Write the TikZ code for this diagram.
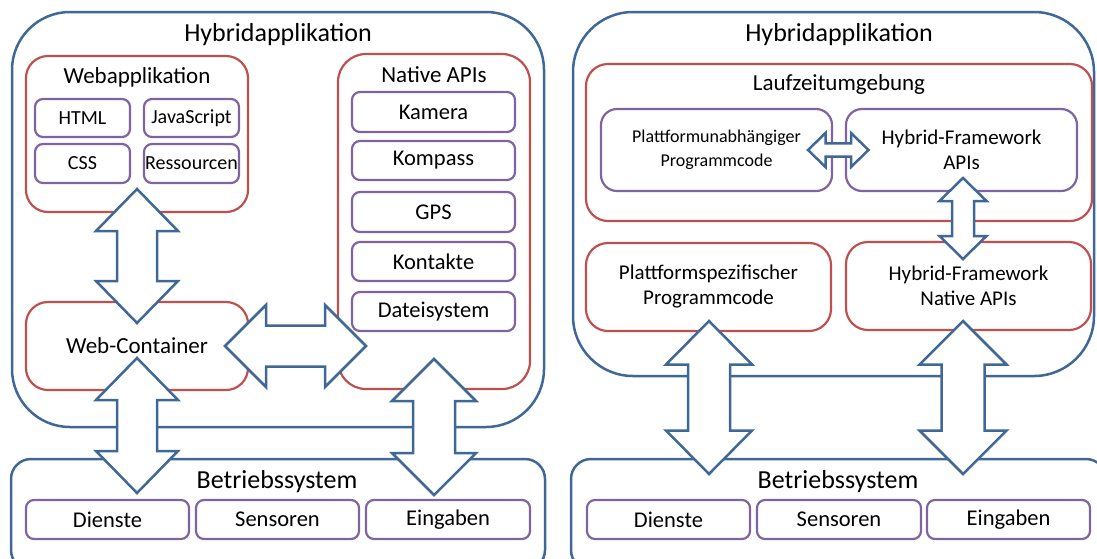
\documentclass[tikz,border=0pt]{standalone}
\usepackage{fontspec}
\setmainfont{Carlito}
\usetikzlibrary{calc}

\definecolor{dblue}{HTML}{3F6896}
\definecolor{dred}{HTML}{C0504D}
\definecolor{dpurple}{HTML}{8064A2}

\tikzset{
  base/.style={inner sep=0pt, outer sep=0pt, align=center, text=black},
  bluebox/.style={base, draw=dblue, line width=2.5pt},
  redbox/.style={base, draw=dred, line width=2.2pt},
  purplebox/.style={base, draw=dpurple, line width=2.2pt, rounded corners=8pt},
  blockarrow/.style={draw=dblue, fill=white, line width=2.5pt, line join=miter},
  bigtitle/.style={base, font=\fontsize{26}{30}\selectfont},
  midtitle/.style={base, font=\fontsize{23}{27}\selectfont},
  itemtext/.style={font=\fontsize{22.5}{26}\selectfont},
  smalltext/.style={font=\fontsize{20}{24}\selectfont},
}

% box node given by its corners in pixel coordinates
\newcommand\rbox[7][]{%
  \node[#1, minimum width={(#5-#3)*1pt}, minimum height={(#6-#4)*1pt}]
    (#2) at ({(#3+#5)/2},{(#4+#6)/2}) {#7};}

% vertical double block arrow: top tip, bottom tip, head half width, shaft half width, head length
\newcommand\vbiarrow[5]{%
  \draw[blockarrow] let \p1=(#1), \p2=(#2) in
    (\x1,\y1) -- ++(#3pt,-#5pt) -- ++(#4pt-#3pt,0pt) -- (\x1+#4pt,\y2+#5pt)
    -- ++(#3pt-#4pt,0pt) -- (\x2,\y2) -- ++(-#3pt,#5pt) -- ++(#3pt-#4pt,0pt)
    -- (\x1-#4pt,\y1-#5pt) -- ++(#4pt-#3pt,0pt) -- cycle;}

% horizontal double block arrow: left tip, right tip, head half height, shaft half height, head length
\newcommand\hbiarrow[5]{%
  \draw[blockarrow] let \p1=(#1), \p2=(#2) in
    (\x1,\y1) -- ++(#5pt,#3pt) -- ++(0pt,#4pt-#3pt) -- (\x2-#5pt,\y1+#4pt)
    -- ++(0pt,#3pt-#4pt) -- (\x2,\y2) -- ++(-#5pt,-#3pt) -- ++(0pt,#3pt-#4pt)
    -- (\x1+#5pt,\y1-#4pt) -- ++(0pt,#4pt-#3pt) -- cycle;}

\begin{document}
\begin{tikzpicture}[x=1pt,y=-1pt]
\useasboundingbox (0,0) rectangle (1097,558);
\clip (0,0) rectangle (1097,558);

% ---------------- left: hybrid app with web container ----------------
\rbox[bluebox, rounded corners=58pt]{hybL}{12}{12}{544}{427}{}
\node[bigtitle] (hybLt) at (278,35) {Hybridapplikation};

\rbox[redbox, rounded corners=22pt]{webapp}{26}{56}{248}{212}{}
\node[midtitle] (webappt) at (137,77) {Webapplikation};
\rbox[purplebox, smalltext]{html}{35}{99}{130}{137}{HTML}
\rbox[purplebox, smalltext]{js}{144}{99}{239}{137}{JavaScript}
\rbox[purplebox, smalltext]{css}{35}{144}{130}{183}{CSS}
\rbox[purplebox, smalltext]{res}{144}{144}{239}{183}{Ressourcen}

\rbox[redbox, rounded corners=28pt]{natapi}{338}{54}{530}{389}{}
\node[midtitle] (natapit) at (434,75) {Native APIs};
\rbox[purplebox, itemtext]{kamera}{352}{92}{515}{132}{Kamera}
\rbox[purplebox, itemtext]{kompass}{352}{141}{515}{180}{Kompass}
\rbox[purplebox, itemtext]{gps}{352}{192}{515}{232}{GPS}
\rbox[purplebox, itemtext]{kontakte}{352}{242}{515}{281}{Kontakte}
\rbox[purplebox, itemtext]{datei}{352}{292}{515}{331}{Dateisystem}

\rbox[redbox, rounded corners=22pt, font=\fontsize{23}{27}\selectfont]{webcont}{26}{302}{248}{390}{Web-Container}

\rbox[bluebox, rounded corners=20pt]{osL}{11}{459}{545}{570}{}
\node[bigtitle] (osLt) at (277,482) {Betriebssystem};
\rbox[purplebox, itemtext]{diensteL}{26}{500}{189}{539}{Dienste}
\rbox[purplebox, itemtext]{sensorenL}{196}{500}{359}{539}{Sensoren}
\rbox[purplebox, itemtext]{eingabenL}{366}{500}{530}{539}{Eingaben}

% arrows of the left diagram
\coordinate (a1t) at (137,189);  \coordinate (a1b) at (137,323);
\coordinate (a2t) at (137,358);  \coordinate (a2b) at (137,493);
\coordinate (a3l) at (225,346);  \coordinate (a3r) at (366,346);
\coordinate (a4t) at (434,359);  \coordinate (a4b) at (434,495);
\vbiarrow{a1t}{a1b}{41}{20}{42}
\vbiarrow{a2t}{a2b}{41}{20}{42}
\hbiarrow{a3l}{a3r}{41}{20.5}{41}
\vbiarrow{a4t}{a4b}{42}{21}{42}

% ---------------- right: hybrid app with framework ----------------
\rbox[bluebox, rounded corners=60pt]{hybR}{573}{12}{1094}{376}{}
\node[bigtitle] (hybRt) at (839,35) {Hybridapplikation};

\rbox[redbox, rounded corners=22pt]{runtime}{586}{64}{1092}{221}{}
\node[midtitle] (runtimet) at (839,84) {Laufzeitumgebung};
\rbox[purplebox, rounded corners=16pt, font=\fontsize{18}{23.5}\selectfont]{indep}{601}{109}{832}{191}{Plattformunabhängiger\\Programmcode}
\rbox[purplebox, rounded corners=16pt, font=\fontsize{21}{25}\selectfont]{hfapi}{846}{109}{1077}{191}{Hybrid-Framework\\APIs}

\rbox[redbox, rounded corners=22pt, font=\fontsize{21}{25}\selectfont]{spec}{586}{243}{831}{331}{Plattformspezifischer\\Programmcode}
\rbox[redbox, rounded corners=22pt, font=\fontsize{21}{25}\selectfont]{hfnat}{846}{242}{1091}{330}{Hybrid-Framework\\Native APIs}

\rbox[bluebox, rounded corners=20pt]{osR}{571}{459}{1106}{570}{}
\node[bigtitle] (osRt) at (838,482) {Betriebssystem};
\rbox[purplebox, itemtext]{diensteR}{587}{500}{750}{539}{Dienste}
\rbox[purplebox, itemtext]{sensorenR}{757}{500}{921}{539}{Sensoren}
\rbox[purplebox, itemtext]{eingabenR}{927}{500}{1090}{539}{Eingaben}

% arrows of the right diagram
\coordinate (b1l) at (808,150);  \coordinate (b1r) at (868.5,150);
\coordinate (b2t) at (963,178);  \coordinate (b2b) at (963,259);
\coordinate (b3t) at (709,321);  \coordinate (b3b) at (709,474);
\coordinate (b4t) at (963,321);  \coordinate (b4b) at (963,474);
\hbiarrow{b1l}{b1r}{17}{6.7}{17.5}
\vbiarrow{b2t}{b2b}{23.5}{11}{23}
\vbiarrow{b3t}{b3b}{43}{21}{43.5}
\vbiarrow{b4t}{b4b}{43.5}{21.5}{43.5}
\end{tikzpicture}
\end{document}
